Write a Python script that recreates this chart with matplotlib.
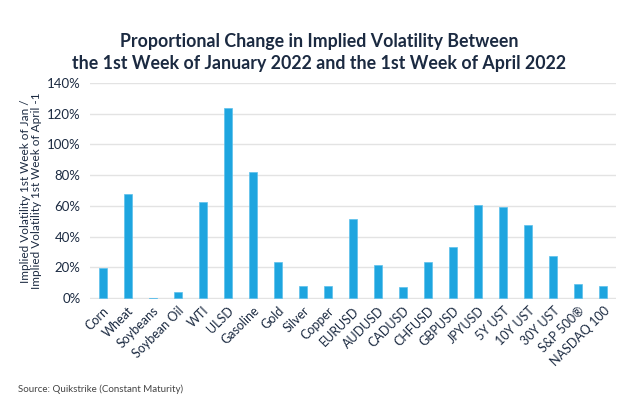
import matplotlib
matplotlib.use("Agg")
import matplotlib.pyplot as plt
from matplotlib.ticker import FuncFormatter

categories = ["Corn", "Wheat", "Soybeans", "Soybean Oil", "WTI", "ULSD", "Gasoline",
              "Gold", "Silver", "Copper", "EURUSD", "AUDUSD", "CADUSD", "CHFUSD",
              "GBPUSD", "JPYUSD", "5Y UST", "10Y UST", "30Y UST", "S&P 500®", "NASDAQ 100"]
values = [19.4, 68.0, -0.5, 4.1, 62.2, 123.5, 82.3, 23.3, 8.0, 7.6, 51.2,
          21.8, 7.1, 23.3, 33.0, 60.5, 59.4, 47.7, 27.6, 9.5, 7.6]
yticks = [0, 20, 40, 60, 80, 100, 120, 140]

plt.rcParams['font.family'] = ['Lato', 'DejaVu Sans']
navy = "#1b2a41"

fig = plt.figure(figsize=(6.39, 4.08), dpi=100)
ax = fig.add_axes([0.141, 0.267, 0.823, 0.530])

x = list(range(len(categories)))
ax.bar(x, values, width=0.32, color="#1ea5df", edgecolor="#5cc0ec", linewidth=0.5, zorder=3)

ax.set_xlim(-0.5, len(categories) - 0.5)
ax.set_ylim(-0.6, 140)
ax.set_yticks(yticks)
ax.yaxis.set_major_formatter(FuncFormatter(lambda v, p: f"{int(v)}%"))
ax.grid(axis="y", color="#e3e3e3", linewidth=1.0, zorder=0)
for s in ax.spines.values():
    s.set_visible(False)
ax.tick_params(axis="both", length=0, colors=navy)
ax.tick_params(axis="y", pad=7, labelsize=9.5)
ax.set_xticks(x)
ax.set_xticklabels(categories, rotation=45, ha="right", rotation_mode="anchor")
ax.tick_params(axis="x", pad=4, labelsize=9)

ax.set_ylabel("Implied Volatility 1st Week of Jan /\nImplied Volatility 1st Week of April -1",
              fontsize=8.5, color=navy, labelpad=3, linespacing=1.05)

fig.suptitle("Proportional Change in Implied Volatility Between\nthe 1st Week of January 2022 and the 1st Week of April 2022",
             x=0.5, y=0.92, fontsize=12.8, fontweight="bold", color=navy, linespacing=1.35)

fig.text(0.028, 0.04, "Source: Quikstrike (Constant Maturity)", fontsize=7, color="#444444")

fig.savefig("out.png", dpi=100, facecolor="white")
